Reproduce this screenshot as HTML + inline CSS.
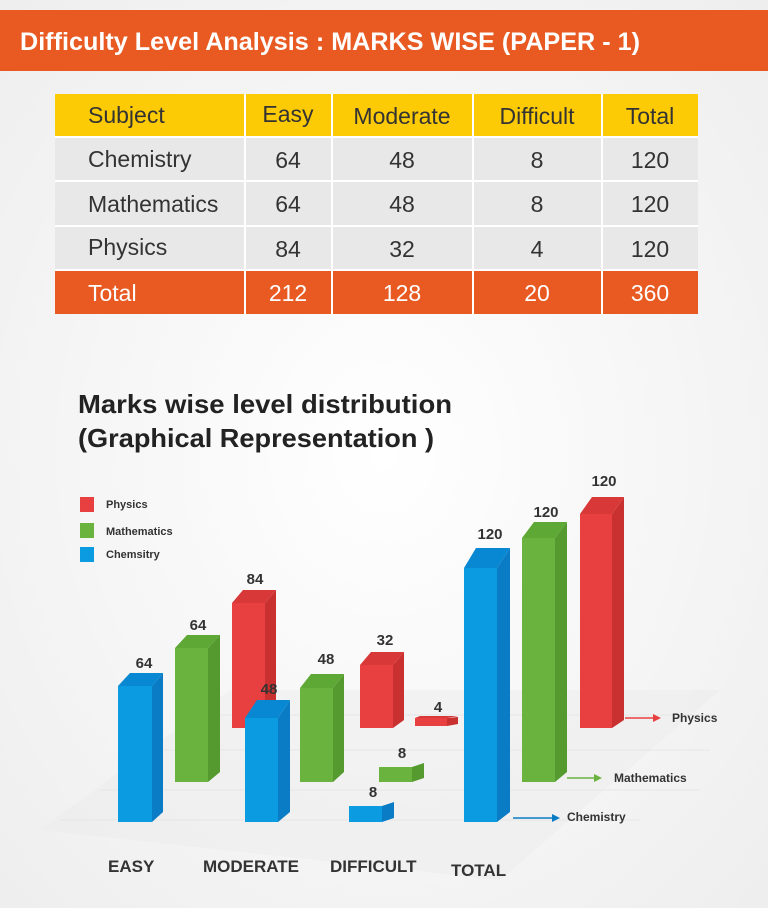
<!DOCTYPE html>
<html><head><meta charset="utf-8"><style>
body{margin:0;width:768px;height:908px;overflow:hidden;background:#f7f7f7;font-family:"Liberation Sans",sans-serif}
</style></head><body>
<svg width="768" height="908" xmlns="http://www.w3.org/2000/svg" style="position:absolute;left:0;top:0">
<defs><radialGradient id="bg" cx="50%" cy="50%" r="70%"><stop offset="0" stop-color="#ffffff"/><stop offset="1" stop-color="#eeeeee"/></radialGradient></defs>
<rect width="768" height="908" fill="url(#bg)"/>
<rect x="0" y="10" width="768" height="61" fill="#E85A22"/>
<text x="20" y="50" font-size="25" font-weight="bold" fill="#fff" textLength="620" lengthAdjust="spacingAndGlyphs">Difficulty Level Analysis :  MARKS WISE (PAPER - 1)</text>
<g font-size="23" fill="#333">
<rect x="55" y="94" width="643" height="43" fill="#FDCB05"/>
<rect x="55" y="137" width="643" height="133" fill="#E8E8E8"/>
<rect x="55" y="270" width="643" height="44" fill="#E85A22"/>
<g stroke="#fff" stroke-width="2">
<line x1="245" y1="94" x2="245" y2="314"/><line x1="332" y1="94" x2="332" y2="314"/><line x1="473" y1="94" x2="473" y2="314"/><line x1="602" y1="94" x2="602" y2="314"/>
<line x1="55" y1="137" x2="698" y2="137"/><line x1="55" y1="181" x2="698" y2="181"/><line x1="55" y1="226" x2="698" y2="226"/><line x1="55" y1="270" x2="698" y2="270"/>
</g>
<text x="88" y="123">Subject</text><text x="288" y="122" text-anchor="middle">Easy</text><text x="402" y="124" text-anchor="middle">Moderate</text><text x="537" y="124" text-anchor="middle">Difficult</text><text x="650" y="124" text-anchor="middle">Total</text>
<text x="88" y="167">Chemistry</text><text x="288" y="168" text-anchor="middle">64</text><text x="402" y="168" text-anchor="middle">48</text><text x="537" y="168" text-anchor="middle">8</text><text x="650" y="168" text-anchor="middle">120</text>
<text x="88" y="212">Mathematics</text><text x="288" y="212" text-anchor="middle">64</text><text x="402" y="212" text-anchor="middle">48</text><text x="537" y="212" text-anchor="middle">8</text><text x="650" y="212" text-anchor="middle">120</text>
<text x="88" y="255">Physics</text><text x="288" y="257" text-anchor="middle">84</text><text x="402" y="257" text-anchor="middle">32</text><text x="537" y="257" text-anchor="middle">4</text><text x="650" y="257" text-anchor="middle">120</text>
<g fill="#fff"><text x="88" y="301">Total</text><text x="288" y="301" text-anchor="middle">212</text><text x="402" y="301" text-anchor="middle">128</text><text x="537" y="301" text-anchor="middle">20</text><text x="650" y="301" text-anchor="middle">360</text></g>
</g>
<g font-size="26" font-weight="bold" fill="#222"><text x="78" y="413" textLength="374" lengthAdjust="spacingAndGlyphs">Marks wise level distribution</text><text x="78" y="447" textLength="356" lengthAdjust="spacingAndGlyphs">(Graphical Representation )</text></g>
<polygon points="40,830 230,690 720,690 500,880" fill="#ececec" opacity="0.45"/>
<g stroke="#e0e0e0" stroke-width="1" opacity="0.6">
<line x1="100" y1="790" x2="700" y2="790"/><line x1="150" y1="750" x2="710" y2="750"/><line x1="200" y1="715" x2="715" y2="715"/><line x1="60" y1="820" x2="640" y2="820"/>
</g>
<g font-size="11" font-weight="bold" fill="#333">
<rect x="80" y="497" width="14" height="15" fill="#E84040"/><text x="106" y="508">Physics</text>
<rect x="80" y="523" width="14" height="15" fill="#6BB33F"/><text x="106" y="535">Mathematics</text>
<rect x="80" y="547" width="14" height="15" fill="#0A9BE0"/><text x="106" y="558">Chemsitry</text>
</g>
<g id="bars" font-size="15" font-weight="bold" fill="#333" text-anchor="middle">
<g><polygon points="265,603 276,590 276,720 265,728" fill="#C93030"/><polygon points="232,603 243,590 276,590 265,603" fill="#D83838"/><rect x="232" y="603" width="33" height="125" fill="#E84040"/><text x="255" y="584">84</text></g>
<g><polygon points="208,648 220,635 220,772 208,782" fill="#559A2E"/><polygon points="175,648 187,635 220,635 208,648" fill="#5EA836"/><rect x="175" y="648" width="33" height="134" fill="#6BB33F"/><text x="198" y="630">64</text></g>
<g><polygon points="152,686 163,673 163,812 152,822" fill="#0A7CC6"/><polygon points="118,686 130,673 163,673 152,686" fill="#0888D2"/><rect x="118" y="686" width="34" height="136" fill="#0A9BE0"/><text x="144" y="668">64</text></g>
<g><polygon points="393,665 404,652 404,720 393,728" fill="#C93030"/><polygon points="360,665 371,652 404,652 393,665" fill="#D83838"/><rect x="360" y="665" width="33" height="63" fill="#E84040"/><text x="385" y="645">32</text></g>
<g><polygon points="333,688 344,674 344,772 333,782" fill="#559A2E"/><polygon points="300,688 311,674 344,674 333,688" fill="#5EA836"/><rect x="300" y="688" width="33" height="94" fill="#6BB33F"/><text x="326" y="664">48</text></g>
<g><polygon points="278,718 290,700 290,812 278,822" fill="#0A7CC6"/><polygon points="245,718 257,700 290,700 278,718" fill="#0888D2"/><rect x="245" y="718" width="33" height="104" fill="#0A9BE0"/><text x="269" y="694">48</text></g>
<g><polygon points="447,718 458,717 458,724 447,726" fill="#C93030"/><polygon points="415,718 420,716 458,716 447,718" fill="#D83838"/><rect x="415" y="718" width="32" height="8" fill="#E84040"/><text x="438" y="712">4</text></g>
<g><polygon points="412,767 424,763 424,778 412,782" fill="#559A2E"/><rect x="379" y="767" width="33" height="15" fill="#6BB33F"/><text x="402" y="758">8</text></g>
<g><polygon points="382,806 394,802 394,818 382,822" fill="#0A7CC6"/><rect x="349" y="806" width="33" height="16" fill="#0A9BE0"/><text x="373" y="797">8</text></g>
<g><polygon points="612,514 624,497 624,720 612,728" fill="#C93030"/><polygon points="580,514 592,497 624,497 612,514" fill="#D83838"/><rect x="580" y="514" width="32" height="214" fill="#E84040"/><text x="604" y="486">120</text></g>
<g><polygon points="555,538 567,522 567,772 555,782" fill="#559A2E"/><polygon points="522,538 534,522 567,522 555,538" fill="#5EA836"/><rect x="522" y="538" width="33" height="244" fill="#6BB33F"/><text x="546" y="517">120</text></g>
<g><polygon points="497,568 510,548 510,812 497,822" fill="#0A7CC6"/><polygon points="464,568 476,548 510,548 497,568" fill="#0888D2"/><rect x="464" y="568" width="33" height="254" fill="#0A9BE0"/><text x="490" y="539">120</text></g>
</g>
<g stroke-width="1.5">
<line x1="625" y1="718" x2="655" y2="718" stroke="#E84040"/><polygon points="653,714 661,718 653,722" fill="#E84040"/>
<line x1="567" y1="778" x2="596" y2="778" stroke="#6BB33F"/><polygon points="594,774 602,778 594,782" fill="#6BB33F"/>
<line x1="513" y1="818" x2="554" y2="818" stroke="#0A7CC6"/><polygon points="552,814 560,818 552,822" fill="#0A7CC6"/>
</g>
<g font-size="12" font-weight="bold" fill="#333"><text x="672" y="722">Physics</text><text x="614" y="782">Mathematics</text><text x="567" y="821">Chemistry</text></g>
<g font-size="17" font-weight="bold" fill="#333"><text x="108" y="872">EASY</text><text x="203" y="872">MODERATE</text><text x="330" y="872">DIFFICULT</text><text x="451" y="876">TOTAL</text></g>
</svg>
</body></html>
